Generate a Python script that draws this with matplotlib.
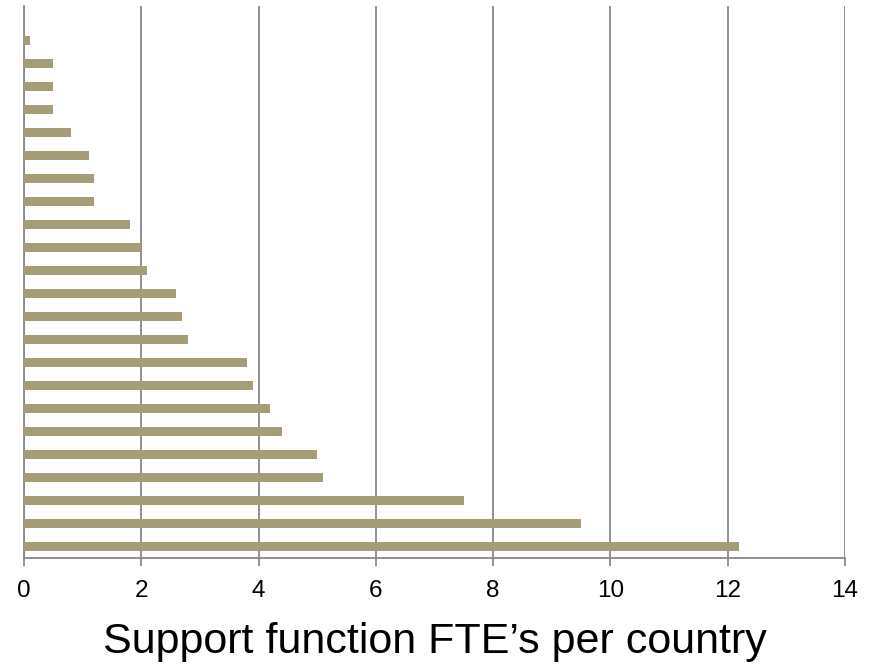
import matplotlib

matplotlib.use("Agg")
import matplotlib.pyplot as plt
import numpy as np

# bars listed bottom -> top (one country per bar, names not shown)
fte = [12.2, 9.5, 7.5, 5.1, 5.0, 4.4, 4.2, 3.9, 3.8, 2.8, 2.7, 2.6,
       2.1, 2.0, 1.8, 1.2, 1.2, 1.1, 0.8, 0.5, 0.5, 0.5, 0.1]
xticks = [0, 2, 4, 6, 8, 10, 12, 14]
xlabel = "Support function FTE\u2019s per country"

plt.rcParams["font.family"] = ["Liberation Sans", "DejaVu Sans"]

fig = plt.figure(figsize=(8.69, 6.68), dpi=100)
ax = fig.add_axes([24 / 869, 1 - 558 / 668, 821 / 869, 552 / 668])

grid_c = "#888888"
ypos = np.arange(len(fte))
ax.barh(ypos, fte, height=0.38, color="#A59D78", zorder=3)

ax.set_xlim(0, 14)
ax.set_ylim(-0.5, len(fte) + 0.5)
ax.set_xticks(xticks)
ax.set_xticklabels([str(t) for t in xticks], fontsize=17.5)
ax.set_yticks([])
ax.grid(axis="x", color=grid_c, lw=1.3, zorder=0)
ax.set_axisbelow(True)

for s in ("top", "right"):
    ax.spines[s].set_visible(False)
for s in ("left", "bottom"):
    ax.spines[s].set_color(grid_c)
    ax.spines[s].set_linewidth(1.3)
ax.tick_params(axis="x", direction="out", length=6, width=1.3,
               color=grid_c, pad=10)

ax.set_xlabel(xlabel, fontsize=31, labelpad=14)

fig.savefig("out.png", dpi=100)
